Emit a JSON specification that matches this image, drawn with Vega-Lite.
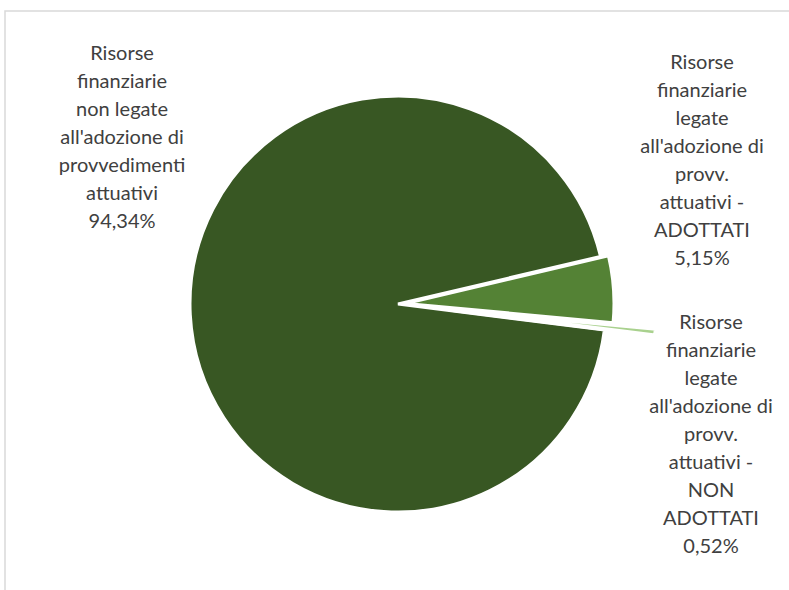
{
  "$schema": "https://vega.github.io/schema/vega-lite/v6.json",
  "width": 789,
  "height": 590,
  "autosize": {"type": "fit", "contains": "padding"},
  "padding": {"left": 5, "top": 11, "right": -6, "bottom": -6},
  "background": "white",
  "view": {"stroke": "#d9d9d9", "strokeWidth": 1.5},
  "config": {"view": {"stroke": "#d9d9d9", "strokeWidth": 1.5}},
  "data": {
    "values": [
      {"categoria": "ADOTTATI", "quota": 5.15, "etichetta": "Risorse\nfinanziarie\nlegate\nall'adozione di\nprovv.\nattuativi -\nADOTTATI\n5,15%"},
      {"categoria": "NON ADOTTATI", "quota": 0.52, "etichetta": "Risorse\nfinanziarie\nlegate\nall'adozione di\nprovv.\nattuativi -\nNON\nADOTTATI\n0,52%"},
      {"categoria": "non legate", "quota": 94.34, "etichetta": "Risorse\nfinanziarie\nnon legate\nall'adozione di\nprovvedimenti\nattuativi\n94,34%"}
    ]
  },
  "transform": [{"stack": "quota", "groupby": [], "as": ["inizio", "fine"]}],
  "encoding": {
    "theta": {"field": "inizio", "type": "quantitative", "scale": {"domain": [0, 100.01], "range": [1.34, 7.6232]}},
    "color": {"field": "categoria", "type": "nominal", "legend": null,
      "scale": {"domain": ["non legate", "ADOTTATI", "NON ADOTTATI"], "range": ["#385723", "#548235", "#a9d18e"]}}
  },
  "layer": [
    {
      "transform": [{"filter": "datum.categoria === 'non legate'"}],
      "mark": {"type": "arc", "outerRadius": 208, "stroke": "white", "strokeWidth": 3, "xOffset": -2, "yOffset": 0.5},
      "encoding": {"theta2": {"field": "fine"}}
    },
    {
      "transform": [{"filter": "datum.categoria === 'ADOTTATI'"}],
      "mark": {"type": "arc", "outerRadius": 208, "stroke": "white", "strokeWidth": 3, "xOffset": 5.98, "yOffset": -0.05},
      "encoding": {"theta2": {"field": "fine"}}
    },
    {
      "transform": [{"filter": "datum.categoria === 'NON ADOTTATI'"}],
      "mark": {"type": "arc", "outerRadius": 208, "stroke": "white", "strokeWidth": 4, "xOffset": 48.7, "yOffset": 6.05},
      "encoding": {"theta2": {"field": "fine"}}
    },
    {
      "transform": [{"filter": "datum.categoria === 'non legate'"}],
      "mark": {"type": "text", "radius": 373.5, "thetaOffset": 3.7476, "lineBreak": "\n", "font": "Lato", "fontSize": 20, "lineHeight": 28, "align": "center", "baseline": "middle"},
      "encoding": {"text": {"field": "etichetta"}, "color": {"value": "#404040"}}
    },
    {
      "transform": [{"filter": "datum.categoria === 'ADOTTATI'"}],
      "mark": {"type": "text", "radius": 386.1, "thetaOffset": -0.4418, "lineBreak": "\n", "font": "Lato", "fontSize": 20, "lineHeight": 28, "align": "center", "baseline": "middle"},
      "encoding": {"text": {"field": "etichetta"}, "color": {"value": "#404040"}}
    },
    {
      "transform": [{"filter": "datum.categoria === 'NON ADOTTATI'"}],
      "mark": {"type": "text", "radius": 311.6, "thetaOffset": -0.0317, "lineBreak": "\n", "font": "Lato", "fontSize": 20, "lineHeight": 28, "align": "center", "baseline": "middle"},
      "encoding": {"text": {"field": "etichetta"}, "color": {"value": "#404040"}}
    }
  ]
}
